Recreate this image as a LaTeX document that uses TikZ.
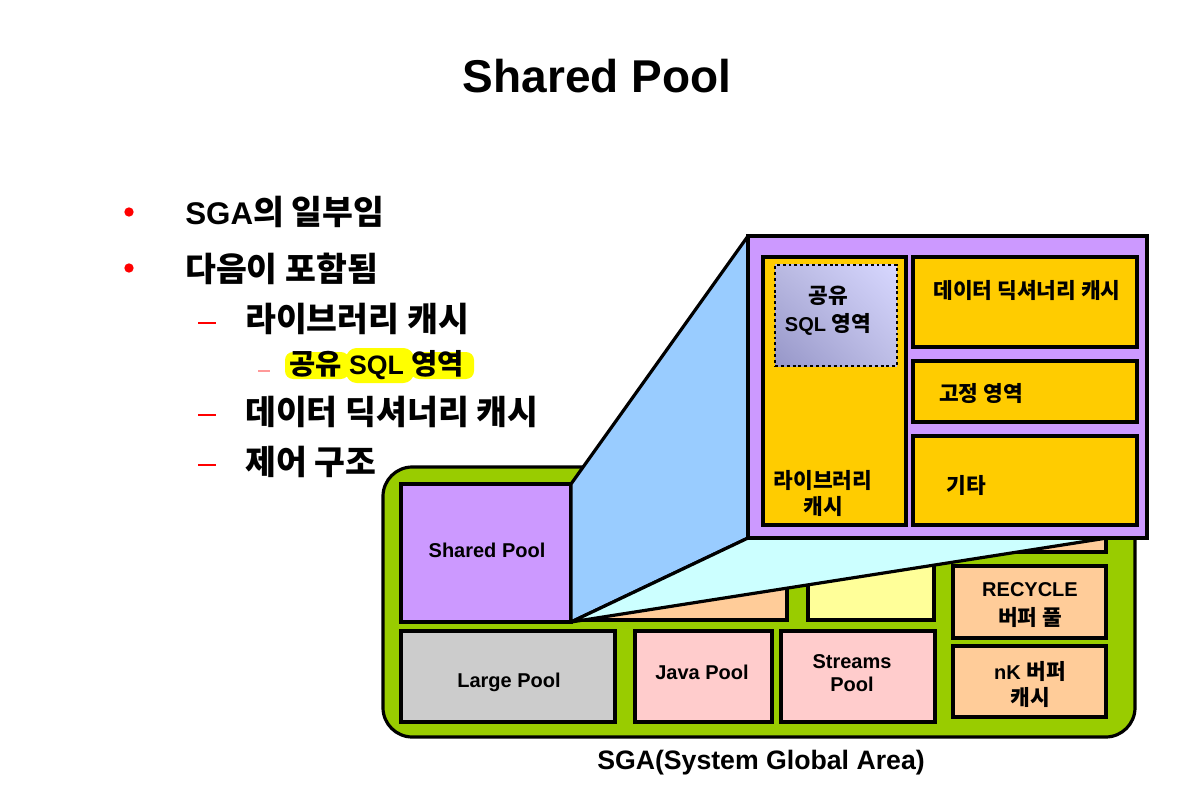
\documentclass[tikz,border=0pt]{standalone}
\usepackage{fontspec}
\setmainfont{Liberation Sans}
\newfontfamily\krfont{Noto Sans CJK KR}[Scale=1.07]
\newcommand\kor[1]{{\krfont #1}}
\usetikzlibrary{fit,shadings}
\definecolor{sgagreen}{HTML}{99CC00}
\definecolor{sppurple}{HTML}{CC99FF}
\definecolor{lpgray}{HTML}{CCCCCC}
\definecolor{pinkbox}{HTML}{FFCCCC}
\definecolor{orangebox}{HTML}{FFCC99}
\definecolor{yellowbox}{HTML}{FFFF99}
\definecolor{zoomblue}{HTML}{99CCFF}
\definecolor{zoomcyan}{HTML}{CCFFFF}
\definecolor{goldbox}{HTML}{FFCC00}
\definecolor{bulred}{HTML}{FF0000}
\definecolor{dashpink}{HTML}{FF9999}
\definecolor{hl}{HTML}{FFFF00}
\begin{document}
\begin{tikzpicture}[x=0.75pt,y=-0.75pt,
  box/.style={draw=black, line width=2.4pt, inner sep=0pt, outer sep=0pt},
  dlbl/.style={font=\bfseries\fontsize{15}{20}\selectfont, align=center, inner sep=0pt, text=black},
  bul/.style={font=\bfseries\fontsize{23.5}{28}\selectfont, inner sep=0pt, anchor=base west},
  dot/.style={circle, fill=bulred, minimum size=7pt, inner sep=0pt},
  dashline/.style={bulred, line width=2.2pt},
  edge/.style={draw=black, line width=2.4pt, line join=round}
  ]
\useasboundingbox (0,0) rectangle (1196,802);

% title
\node[font=\bfseries\fontsize{34.5}{40}\selectfont, inner sep=0pt, anchor=base] (title) at (597,93) {Shared Pool};

% bullet list
\node[dot] (d1) at (129,212) {};
\node[dot] (d2) at (129,268) {};
\node[bul] (t1) at (185,225) {SGA\kor{의 일부임}};
\node[bul] (t2) at (185,282) {\kor{다음이 포함됨}};
\draw[dashline] (198,323) -- (216,323);
\node[bul] (t3) at (245,332) {\kor{라이브러리 캐시}};
\draw[dashpink, line width=1.5pt] (258,371) -- (270,371);
\fill[hl, rounded corners=6] (285,352) rectangle (349,379);
\fill[hl, rounded corners=8] (346,348) rectangle (414,383);
\fill[hl, rounded corners=6] (411,352) rectangle (474,379);
\node[font=\bfseries\fontsize{20}{24}\selectfont, inner sep=0pt, anchor=base west] (t4) at (289,374) {\kor{공유} SQL \kor{영역}};
\draw[dashline] (198,415) -- (216,415);
\node[bul] (t5) at (245,424) {\kor{데이터 딕셔너리 캐시}};
\draw[dashline] (198,465) -- (216,465);
\node[bul] (t6) at (245,474) {\kor{제어 구조}};

% SGA
\node[box, fill=sgagreen, rounded corners=22pt, fit={(383,467) (1135,737)}] (sga) {};
\node[box, fill=sppurple, fit={(401,484) (571,622)}] (sp) {};
\node[box, fill=lpgray, fit={(401,631) (615,722)}] (lp) {};
\node[box, fill=pinkbox, fit={(635,631) (772,722)}] (jp) {};
\node[box, fill=pinkbox, fit={(781,631) (935,722)}] (stp) {};
\node[box, fill=orangebox, fit={(953,566) (1106,638)}] (rec) {};
\node[box, fill=orangebox, fit={(953,646) (1106,717)}] (nk) {};
\node[box, fill=orangebox, fit={(580,487) (787,620)}] (dbc) {};
\node[box, fill=yellowbox, fit={(808,487) (934,620)}] (redo) {};
\node[box, fill=orangebox, fit={(953,487) (1106,552)}] (keep) {};

\node[dlbl, anchor=base] (lsp) at (487,557) {Shared Pool};
\node[dlbl, anchor=base] (llp) at (509,687) {Large Pool};
\node[dlbl, anchor=base] (ljp) at (702,679) {Java Pool};
\node[dlbl, font=\bfseries\fontsize{15}{17.5}\selectfont] (lstp) at (852,673) {Streams\\Pool};
\node[dlbl, font=\bfseries\fontsize{15}{21.75}\selectfont] (lrec) at (1030,605) {RECYCLE\\\kor{버퍼 풀}};
\node[dlbl, font=\bfseries\fontsize{15}{19.5}\selectfont] (lnk) at (1030,684) {nK \kor{버퍼}\\\kor{캐시}};

% magnification
\coordinate (zNW) at (748,236);
\coordinate (zSW) at (748,538);
\coordinate (zS) at (1107,538);
\coordinate (zSE) at (1147,538);
\draw[edge, fill=zoomblue] (sp.north east) -- (zNW) -- (zSW) -- (sp.south east) -- cycle;
\draw[edge, fill=zoomcyan] (sp.south east) -- (zSW) -- (zS) -- cycle;

\node[box, fill=sppurple, fit={(zNW) (zSE)}] (zoom) {};
\node[box, fill=goldbox, fit={(763,257) (906,525)}] (lib) {};
\node[draw=black, dash pattern=on 2.2pt off 2.2pt, line width=2.2pt, inner sep=0pt, shade,
      upper left={rgb,255:red,185;green,185;blue,225},
      upper right={rgb,255:red,215;green,215;blue,255},
      lower left={rgb,255:red,150;green,150;blue,200},
      lower right={rgb,255:red,190;green,190;blue,230},
      fit={(775,265) (897,366)}] (sqla) {};
\node[box, fill=goldbox, fit={(913,257) (1137,347)}] (dd) {};
\node[box, fill=goldbox, fit={(913,361) (1137,422)}] (fix) {};
\node[box, fill=goldbox, fit={(913,436) (1137,525)}] (etc) {};

\node[dlbl, font=\bfseries\fontsize{15}{21}\selectfont] (lsqla) at (828,311) {\kor{공유}\\SQL \kor{영역}};
\node[dlbl, font=\bfseries\fontsize{15}{19.5}\selectfont] (llib) at (823,493) {\kor{라이브러리}\\\kor{캐시}};
\node[dlbl] (ldd) at (1027,291) {\kor{데이터 딕셔너리 캐시}};
\node[dlbl] (lfix) at (981,394) {\kor{고정 영역}};
\node[dlbl] (letc) at (966,485) {\kor{기타}};

\node[font=\bfseries\fontsize{20}{24}\selectfont, anchor=base, inner sep=0pt] (sgal) at (761,769) {SGA(System Global Area)};
\end{tikzpicture}
\end{document}
